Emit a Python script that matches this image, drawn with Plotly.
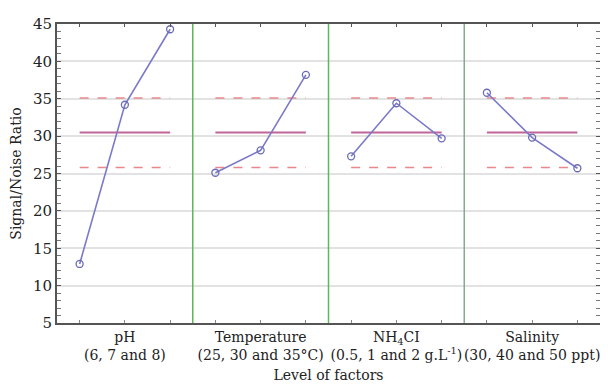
import plotly.graph_objects as go

factors = ["pH<br>(6, 7 and 8)",
           "Temperature<br>(25, 30 and 35°C)",
           "NH<sub>4</sub>CI<br>(0.5, 1 and 2 g.L<sup>-1</sup>)",
           "Salinity<br>(30, 40 and 50 ppt)"]
ph_sn = [12.9, 34.2, 44.3]
temp_sn = [25.1, 28.1, 38.2]
nh4cl_sn = [27.3, 34.4, 29.7]
salinity_sn = [35.8, 29.8, 25.7]
mean_sn = 30.5
upper_limit = 35.1
lower_limit = 25.8
y_ticks = [5, 10, 15, 20, 25, 30, 35, 40, 45]

series = [ph_sn, temp_sn, nh4cl_sn, salinity_sn]
n_levels = 3
FONT = "DejaVu Serif"

fig = go.Figure()
for i, vals in enumerate(series):
    xs = [i * n_levels + k + 1 for k in range(n_levels)]
    x_ends = [xs[0], xs[-1]]
    fig.add_trace(go.Scatter(x=x_ends, y=[upper_limit] * 2, mode="lines",
                             line=dict(color="#e8888c", width=1.6, dash="dash"),
                             showlegend=False, hoverinfo="skip"))
    fig.add_trace(go.Scatter(x=x_ends, y=[lower_limit] * 2, mode="lines",
                             line=dict(color="#e8888c", width=1.6, dash="dash"),
                             showlegend=False, hoverinfo="skip"))
    fig.add_trace(go.Scatter(x=x_ends, y=[mean_sn] * 2, mode="lines",
                             line=dict(color="#c0649a", width=2),
                             showlegend=False, hoverinfo="skip"))
    fig.add_trace(go.Scatter(x=xs, y=vals, mode="lines+markers",
                             line=dict(color="#7a7ac8", width=1.6),
                             marker=dict(symbol="circle-open", size=7,
                                         color="#6a6ab8", line=dict(width=1.3)),
                             showlegend=False))

sep_colors = ["#5cb85c", "#5cb85c", "#8aa88a"]
for j in range(1, len(series)):
    fig.add_shape(type="line", xref="x", yref="paper",
                  x0=j * n_levels + 0.5, x1=j * n_levels + 0.5, y0=0, y1=1,
                  line=dict(color=sep_colors[j - 1], width=1.5))

total = len(series) * n_levels
centers = [i * n_levels + 2 for i in range(len(series))]
all_pos = list(range(1, total + 1))

fig.update_layout(
    width=600, height=380,
    margin=dict(l=49, r=8, t=16, b=65),
    paper_bgcolor="white", plot_bgcolor="white",
    font=dict(family=FONT, size=14, color="#222"),
    xaxis=dict(range=[0.5, total + 0.5], tickvals=centers, ticktext=factors,
               ticks="", showgrid=False, zeroline=False, automargin=False,
               tickangle=0,
               showline=True, linecolor="#555", linewidth=2,
               tickfont=dict(family=FONT, size=14),
               title=dict(text="Level of factors", font=dict(family=FONT, size=14), standoff=8)),
    xaxis2=dict(range=[0.5, total + 0.5], overlaying="x", side="top", anchor="y",
                tickvals=all_pos, showticklabels=False, ticks="inside", automargin=False,
                ticklen=3, tickcolor="#555", showgrid=False, zeroline=False,
                showline=True, linecolor="#555", linewidth=2),
    xaxis3=dict(range=[0.5, total + 0.5], overlaying="x", side="bottom", anchor="y",
                tickvals=all_pos, showticklabels=False, ticks="inside", automargin=False,
                ticklen=3, tickcolor="#888", showgrid=False, zeroline=False),
    yaxis=dict(range=[5, 45], tickvals=y_ticks, ticks="inside", ticklen=4,
               tickcolor="#555", showgrid=True, gridcolor="#e2e2e2", gridwidth=1.5,
               zeroline=False, showline=True, linecolor="#555", linewidth=2,
               mirror="allticks", automargin=False,
               minor=dict(dtick=1, ticks="inside", ticklen=3, tickcolor="#777", showgrid=False),
               tickfont=dict(family=FONT, size=15),
               title=dict(text="Signal/Noise Ratio", font=dict(family=FONT, size=14))),
)
fig.add_trace(go.Scatter(x=[1], y=[None], xaxis="x2", showlegend=False, hoverinfo="skip"))
fig.add_trace(go.Scatter(x=[1], y=[None], xaxis="x3", showlegend=False, hoverinfo="skip"))

fig.write_html("out.html")
